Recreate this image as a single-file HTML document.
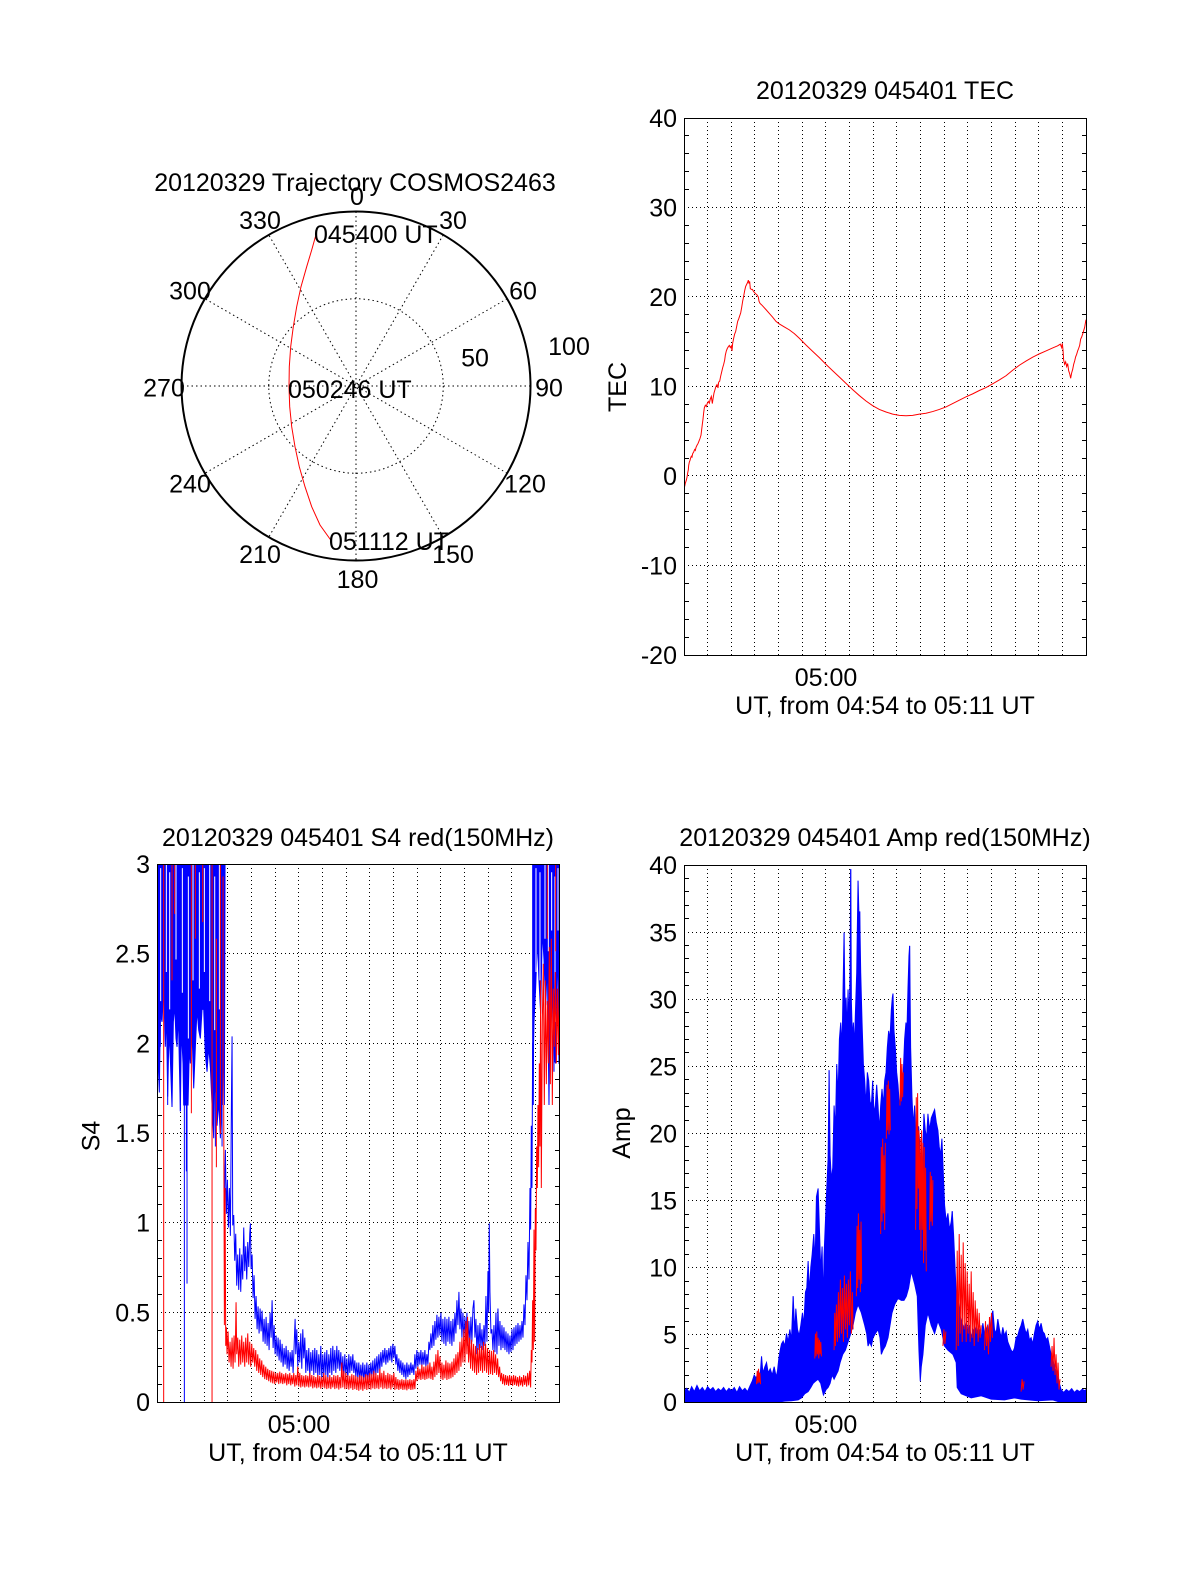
<!DOCTYPE html>
<html>
<head>
<meta charset="utf-8">
<style>
html,body{margin:0;padding:0;background:#fff;}
svg{display:block;}
text{font-family:"Liberation Sans",Arial,Helvetica,sans-serif;font-size:25px;fill:#000;}
</style>
</head>
<body>
<svg xmlns="http://www.w3.org/2000/svg" width="1200" height="1575" viewBox="0 0 1200 1575">
<rect x="0" y="0" width="1200" height="1575" fill="#fff"/>
<defs>
  <clipPath id="cTEC"><rect x="684" y="118" width="402" height="537"/></clipPath>
  <clipPath id="cS4"><rect x="157" y="864" width="402" height="538"/></clipPath>
  <clipPath id="cAmp"><rect x="684" y="865" width="402" height="537"/></clipPath>
</defs>

<!-- ================= POLAR ================= -->
<g>
  <text x="355" y="191" text-anchor="middle">20120329 Trajectory COSMOS2463</text>
  <g stroke="#000" stroke-width="1" stroke-dasharray="1.5 3" fill="none">
    <path d="M356 211.5L356 560.5M443.25 234.9L268.75 537.1M507.1 298.75L204.9 473.25M530.5 386L181.5 386M507.1 473.25L204.9 298.75M443.25 537.1L268.75 234.9"/>
    <circle cx="356" cy="386" r="87.25"/>
  </g>
  <circle cx="356" cy="386" r="174.5" fill="none" stroke="#000" stroke-width="2"/>
  <polyline fill="none" stroke="#ff0000" stroke-width="1" points="315.7,235.7 311.7,250 306.7,266.7 301,286.7 296.7,306.7 293.3,326.7 290.7,346.7 289.3,366.7 289,386.7 289.7,406.7 291.7,426.7 295,446.7 299.3,466.7 305,486.7 311.7,506.7 320,525 330.7,540"/>
  <text x="357" y="205" text-anchor="middle">0</text>
  <text x="453" y="229" text-anchor="middle">30</text>
  <text x="523" y="299.5" text-anchor="middle">60</text>
  <text x="549" y="396.5" text-anchor="middle">90</text>
  <text x="525" y="492.5" text-anchor="middle">120</text>
  <text x="453" y="563" text-anchor="middle">150</text>
  <text x="357.5" y="588" text-anchor="middle">180</text>
  <text x="260" y="563" text-anchor="middle">210</text>
  <text x="190" y="492.5" text-anchor="middle">240</text>
  <text x="164" y="396.5" text-anchor="middle">270</text>
  <text x="190" y="299.5" text-anchor="middle">300</text>
  <text x="260" y="229" text-anchor="middle">330</text>
  <text x="475" y="366.5" text-anchor="middle">50</text>
  <text x="569" y="355" text-anchor="middle">100</text>
  <text x="314" y="243">045400 UT</text>
  <text x="288" y="398">050246 UT</text>
  <text x="329" y="550">051112 UT</text>
</g>

<!-- ================= TEC ================= -->
<g>
  <text x="885" y="99" text-anchor="middle">20120329 045401 TEC</text>
  <g stroke="#000" stroke-width="1" stroke-dasharray="1 3" fill="none" shape-rendering="crispEdges">
    <path d="M707.5 118V655M731.5 118V655M754.5 118V655M778.5 118V655M802.5 118V655M825.5 118V655M849.5 118V655M873.5 118V655M896.5 118V655M920.5 118V655M944.5 118V655M967.5 118V655M991.5 118V655M1015.5 118V655M1038.5 118V655M1062.5 118V655"/>
    <path d="M684 207.5H1086M684 296.5H1086M684 386.5H1086M684 475.5H1086M684 565.5H1086"/>
  </g>
  <path stroke="#000" stroke-width="1" fill="none" shape-rendering="crispEdges" d="M684 135.5h5M1087 135.5h-5M684 153.5h5M1087 153.5h-5M684 171.5h5M1087 171.5h-5M684 189.5h5M1087 189.5h-5M684 225.5h5M1087 225.5h-5M684 243.5h5M1087 243.5h-5M684 261.5h5M1087 261.5h-5M684 279.5h5M1087 279.5h-5M684 314.5h5M1087 314.5h-5M684 332.5h5M1087 332.5h-5M684 350.5h5M1087 350.5h-5M684 368.5h5M1087 368.5h-5M684 404.5h5M1087 404.5h-5M684 422.5h5M1087 422.5h-5M684 440.5h5M1087 440.5h-5M684 458.5h5M1087 458.5h-5M684 493.5h5M1087 493.5h-5M684 511.5h5M1087 511.5h-5M684 529.5h5M1087 529.5h-5M684 547.5h5M1087 547.5h-5M684 583.5h5M1087 583.5h-5M684 601.5h5M1087 601.5h-5M684 619.5h5M1087 619.5h-5M684 637.5h5M1087 637.5h-5"/>
  <g clip-path="url(#cTEC)">
    <g transform="translate(599.333,69.565) scale(0.33333,0.42118)">
      <polyline fill="none" stroke="#ff0000" stroke-width="1" vector-effect="non-scaling-stroke" points="256,990 258,982 261,975 263,968 265,958 267,950 268,940 270,932 272,928 274,922 276,918 278,920 280,912 283,908 286,902 288,904 290,897 293,892 296,888 299,882 302,876 305,868 307,855 309,842 311,830 313,815 315,803 318,797 321,800 324,792 327,788 330,792 333,782 336,776 339,793 341,782 344,768 347,760 350,752 353,748 356,756 358,742 361,740 364,728 367,718 370,708 373,700 376,690 378,678 381,668 384,662 387,658 390,655 393,660 396,656 398,668 400,650 403,638 406,628 409,622 412,610 415,598 418,592 421,585 424,578 427,565 430,550 433,538 436,525 439,515 442,510 445,505 447,500 449,508 451,503 453,520 456,522 459,522 462,526 466,530 470,533 474,536 477,540 479,550 482,555 486,558 492,563 500,570 510,579 520,588 530,598 540,604 555,611 570,618 585,627 600,638 620,654 640,669 660,684 680,700 700,715 720,730 740,745 760,760 780,774 800,787 820,798 840,807 860,813 880,818 900,821 920,822 940,821 960,818 980,816 1000,812 1020,807 1040,801 1060,793 1080,785 1100,777 1120,770 1140,762 1160,755 1180,746 1200,737 1220,727 1240,714 1260,702 1280,692 1300,683 1320,675 1340,668 1360,661 1375,656 1383,652 1387,660 1389,650 1391,665 1393,690 1396,700 1399,694 1402,705 1405,698 1408,715 1411,722 1414,733 1417,720 1420,712 1423,700 1426,692 1429,682 1432,676 1435,668 1438,662 1441,655 1444,640 1447,635 1450,628 1453,620 1456,612 1459,598 1460,594"/>
    </g>
  </g>
  <rect x="684.5" y="118.5" width="402" height="537" fill="none" stroke="#000" stroke-width="1" shape-rendering="crispEdges"/>
  <g text-anchor="end">
    <text x="677" y="127">40</text>
    <text x="677" y="216.5">30</text>
    <text x="677" y="306">20</text>
    <text x="677" y="395.5">10</text>
    <text x="677" y="485">0</text>
    <text x="677" y="574.5">-10</text>
    <text x="677" y="664">-20</text>
  </g>
  <text x="826" y="686" text-anchor="middle">05:00</text>
  <text x="885" y="714" text-anchor="middle">UT, from 04:54 to 05:11 UT</text>
  <text transform="translate(626,387) rotate(-90)" text-anchor="middle">TEC</text>
</g>

<!-- ================= S4 ================= -->
<g>
  <text x="358" y="846" text-anchor="middle">20120329 045401 S4 red(150MHz)</text>
  <g stroke="#000" stroke-width="1" stroke-dasharray="1 3" fill="none" shape-rendering="crispEdges">
    <path d="M180.5 864V1402M204.5 864V1402M227.5 864V1402M251.5 864V1402M275.5 864V1402M298.5 864V1402M322.5 864V1402M346.5 864V1402M369.5 864V1402M393.5 864V1402M417.5 864V1402M440.5 864V1402M464.5 864V1402M488.5 864V1402M511.5 864V1402M535.5 864V1402"/>
    <path d="M157 953.5H559M157 1043.5H559M157 1133.5H559M157 1222.5H559M157 1312.5H559"/>
  </g>
  <path stroke="#000" stroke-width="1" fill="none" shape-rendering="crispEdges" d="M157 881.5h5M560 881.5h-5M157 899.5h5M560 899.5h-5M157 917.5h5M560 917.5h-5M157 935.5h5M560 935.5h-5M157 971.5h5M560 971.5h-5M157 989.5h5M560 989.5h-5M157 1007.5h5M560 1007.5h-5M157 1025.5h5M560 1025.5h-5M157 1061.5h5M560 1061.5h-5M157 1079.5h5M560 1079.5h-5M157 1097.5h5M560 1097.5h-5M157 1115.5h5M560 1115.5h-5M157 1150.5h5M560 1150.5h-5M157 1168.5h5M560 1168.5h-5M157 1186.5h5M560 1186.5h-5M157 1204.5h5M560 1204.5h-5M157 1240.5h5M560 1240.5h-5M157 1258.5h5M560 1258.5h-5M157 1276.5h5M560 1276.5h-5M157 1294.5h5M560 1294.5h-5M157 1330.5h5M560 1330.5h-5M157 1348.5h5M560 1348.5h-5M157 1366.5h5M560 1366.5h-5M157 1384.5h5M560 1384.5h-5"/>
  <g clip-path="url(#cS4)">
    <g transform="translate(80.27,814.15) scale(0.33361,0.41544)">
      <!-- blue left chaos -->
      <polygon fill="#0000ff" stroke="#0000ff" stroke-width="1" vector-effect="non-scaling-stroke" points="229,100 229,560 232,570 237,670 240,480 245,500 250,420 255,560 258,470 262,680 266,520 270,590 275,705 279,500 283,460 287,540 290,560 294,480 297,600 300,715 303,520 305,550 308,600 310,700 316,700 318,700 323,700 327,560 330,600 335,520 340,660 345,560 350,470 355,520 360,540 365,470 370,470 375,580 380,620 385,560 390,610 395,700 400,780 403,640 405,670 408,560 410,750 415,690 420,780 425,680 428,620 430,560 432,700 434,100"/>
      <!-- blue right chaos -->
      <polygon fill="#0000ff" stroke="#0000ff" stroke-width="1" vector-effect="non-scaling-stroke" points="1356,100 1440,100 1440,600 1435,600 1430,300 1425,600 1420,590 1415,450 1410,300 1405,700 1400,360 1395,460 1390,350 1385,280 1380,480 1375,400 1370,300 1365,420 1360,500 1356,640"/>
      <!-- white streaks in chaos -->
      <path stroke="#ffffff" stroke-width="1" vector-effect="non-scaling-stroke" fill="none" d="M241 130V450M258 120V380M268 140V470M287 120V350M306 130V430M324 150V540M338 120V400M357 140V420M372 130V380M388 120V450M403 150V520M417 120V470M1366 130V380M1378 140V400M1393 120V300M1403 120V330M1413 140V280M1423 150V500M1432 130V280"/>
      <!-- blue spikes -->
      <path stroke="#0000ff" stroke-width="1" vector-effect="non-scaling-stroke" fill="none" d="M312 100V1420M320 700V1130M262 500V700M300 550V715M240 480V560M318 700V860M405 600V800M425 650V800M1405 500V700M1420 500V620"/>
      <!-- blue middle -->
      <polyline fill="none" stroke="#0000ff" stroke-width="1" vector-effect="non-scaling-stroke" points="432,930 435,808 438,962 441,880 444,995 447,900 450,1015 453,700 455,535 457,990 460,965 463,1075 466,1010 469,1135 472,1060 475,1145 478,1045 481,1150 484,1060 487,1120 490,995 493,1100 496,1040 499,1120 502,1030 505,1090 508,1010 510,985 512,1095 515,1060 518,1165 521,1110 524,1215 527,1160 530,1240 533,1185 536,1250 539,1190 542,1245 545,1195 548,1270 551,1215 554,1275 557,1210 560,1280 563,1225 566,1290 569,1200 572,1260 575,1170 578,1285 581,1230 584,1300 587,1255 590,1305 593,1260 596,1315 599,1265 602,1320 605,1275 608,1330 611,1285 614,1325 617,1280 620,1335 623,1290 626,1340 629,1295 632,1330 635,1290 638,1345 641,1280 644,1215 646,1300 649,1240 652,1330 655,1270 658,1320 661,1250 664,1335 667,1240 670,1310 673,1260 676,1345 679,1290 682,1340 685,1285 688,1355 691,1295 694,1340 697,1290 700,1350 703,1285 706,1345 709,1290 712,1355 715,1300 718,1350 721,1280 724,1360 727,1300 730,1355 733,1295 736,1350 739,1290 742,1360 745,1300 748,1345 751,1285 754,1350 757,1280 760,1340 763,1290 766,1345 769,1280 772,1335 775,1290 778,1340 781,1295 784,1355 787,1305 790,1360 793,1300 796,1350 799,1310 802,1360 805,1300 808,1345 811,1305 814,1340 817,1300 820,1345 823,1315 826,1355 829,1320 832,1360 835,1320 838,1365 841,1325 844,1360 847,1320 850,1370 853,1325 856,1365 859,1320 862,1370 865,1325 868,1360 871,1320 874,1355 877,1315 880,1360 883,1310 886,1350 889,1305 892,1345 895,1300 898,1340 901,1295 904,1330 907,1290 910,1320 913,1285 916,1325 919,1290 922,1320 925,1285 928,1315 931,1280 934,1320 937,1275 940,1310 943,1280 946,1325 949,1300 952,1340 955,1310 958,1345 961,1315 964,1350 967,1320 970,1355 973,1325 976,1360 979,1320 982,1355 985,1325 988,1350 991,1320 994,1345 997,1325 1000,1350 1003,1300 1006,1335 1009,1290 1012,1330 1015,1295 1018,1325 1021,1290 1024,1330 1027,1295 1030,1325 1033,1290 1036,1330 1039,1300 1042,1325 1045,1270 1048,1290 1051,1250 1054,1285 1057,1230 1060,1280 1063,1220 1066,1265 1069,1205 1072,1260 1075,1210 1078,1255 1081,1200 1084,1270 1087,1215 1090,1275 1093,1210 1096,1280 1099,1215 1102,1270 1105,1210 1108,1275 1111,1220 1114,1280 1117,1215 1120,1270 1123,1200 1126,1250 1129,1170 1132,1230 1135,1150 1138,1240 1141,1190 1144,1260 1147,1200 1150,1270 1153,1210 1156,1265 1159,1200 1162,1280 1165,1220 1168,1275 1171,1210 1174,1270 1177,1190 1180,1170 1183,1260 1186,1215 1189,1300 1192,1230 1195,1290 1198,1225 1201,1285 1204,1240 1207,1290 1210,1230 1213,1280 1216,1160 1219,1270 1222,1100 1224,1200 1226,985 1228,1150 1231,1250 1234,1240 1237,1290 1240,1230 1243,1295 1246,1200 1249,1300 1252,1190 1255,1280 1258,1220 1261,1290 1264,1230 1267,1285 1270,1235 1273,1290 1276,1245 1279,1295 1282,1250 1285,1300 1288,1255 1291,1295 1294,1240 1297,1290 1300,1235 1303,1280 1306,1230 1309,1275 1312,1225 1315,1270 1318,1230 1321,1265 1324,1220 1327,1260 1330,1180 1333,1230 1336,1110 1339,1170 1342,1030 1345,1120 1348,900 1350,1000 1352,750 1354,900 1356,550 1358,700 1360,300"/>
      <!-- red middle/right -->
      <polyline fill="none" stroke="#ff0000" stroke-width="1" vector-effect="non-scaling-stroke" points="430,700 432,1230 434,900 436,1280 438,1235 440,1300 443,1245 446,1320 449,1270 452,1330 455,1260 458,1335 461,1255 464,1320 467,1175 469,1300 472,1260 475,1330 478,1265 481,1325 484,1255 487,1320 490,1270 493,1330 496,1260 499,1320 502,1250 505,1325 508,1270 511,1330 514,1275 517,1320 520,1285 523,1330 526,1290 529,1340 532,1300 535,1345 538,1310 541,1350 544,1315 547,1355 550,1325 553,1360 556,1330 559,1362 562,1335 565,1365 568,1338 571,1368 574,1340 577,1370 580,1342 583,1372 586,1345 589,1368 592,1345 595,1372 598,1342 601,1370 604,1345 607,1372 610,1348 613,1370 616,1345 619,1375 622,1348 625,1372 628,1345 631,1375 634,1350 637,1372 640,1345 643,1378 646,1350 649,1375 652,1330 655,1378 658,1345 661,1380 664,1350 667,1378 670,1352 673,1380 676,1350 679,1378 682,1352 685,1380 688,1345 691,1378 694,1350 697,1382 700,1352 703,1380 706,1355 709,1382 712,1350 715,1380 718,1352 721,1383 724,1355 727,1380 730,1345 733,1382 736,1350 739,1384 742,1355 745,1382 748,1350 751,1384 754,1355 757,1380 760,1350 763,1384 766,1352 769,1382 772,1350 775,1385 778,1355 781,1382 784,1320 787,1380 790,1340 793,1384 796,1345 799,1383 802,1350 805,1385 808,1352 811,1382 814,1348 817,1386 820,1350 823,1384 826,1352 829,1386 832,1355 835,1388 838,1350 841,1385 844,1352 847,1388 850,1355 853,1384 856,1348 859,1386 862,1350 865,1384 868,1345 871,1385 874,1348 877,1382 880,1340 883,1384 886,1345 889,1382 892,1350 895,1384 898,1335 901,1380 904,1345 907,1384 910,1340 913,1382 916,1350 919,1384 922,1345 925,1382 928,1348 931,1385 934,1350 937,1380 940,1345 943,1386 946,1355 949,1384 952,1360 955,1386 958,1362 961,1384 964,1360 967,1386 970,1362 973,1385 976,1360 979,1387 982,1362 985,1384 988,1360 991,1386 994,1362 997,1385 1000,1360 1003,1384 1006,1340 1009,1365 1012,1330 1015,1360 1018,1335 1021,1362 1024,1325 1027,1360 1030,1330 1033,1362 1036,1328 1039,1360 1042,1325 1045,1358 1048,1320 1051,1360 1054,1330 1057,1362 1060,1318 1063,1355 1066,1300 1069,1350 1072,1290 1075,1345 1078,1305 1081,1360 1084,1320 1087,1362 1090,1325 1093,1358 1096,1315 1099,1362 1102,1320 1105,1360 1108,1322 1111,1358 1114,1318 1117,1355 1120,1310 1123,1350 1126,1300 1129,1345 1132,1295 1135,1340 1138,1270 1141,1330 1144,1260 1147,1320 1150,1240 1153,1320 1156,1220 1159,1300 1161,1210 1164,1320 1167,1260 1170,1335 1173,1265 1176,1340 1179,1275 1182,1345 1185,1280 1188,1350 1191,1285 1194,1345 1197,1275 1200,1340 1203,1280 1206,1345 1209,1270 1212,1340 1215,1275 1218,1345 1221,1285 1224,1350 1227,1290 1230,1348 1233,1292 1236,1350 1239,1290 1242,1345 1245,1300 1248,1350 1251,1310 1254,1355 1257,1330 1260,1365 1263,1345 1266,1372 1269,1348 1272,1375 1275,1350 1278,1374 1281,1352 1284,1376 1287,1350 1290,1374 1293,1352 1296,1376 1299,1350 1302,1374 1305,1352 1308,1376 1311,1355 1314,1378 1317,1352 1320,1375 1323,1355 1326,1378 1329,1350 1332,1374 1335,1352 1338,1378 1341,1345 1344,1375 1347,1340 1350,1380 1352,1290 1354,1320 1356,1170 1358,1290 1360,1000 1362,1270 1364,950 1366,1050 1368,800 1370,900 1372,700 1374,850 1376,600 1378,800 1380,400 1382,900 1385,500 1388,360 1391,700 1394,400 1397,650 1400,450 1403,600 1406,320 1409,650 1412,300 1415,700 1418,420 1421,560 1424,380 1427,600 1430,420 1433,580 1436,400"/>
      <!-- red lines left -->
      <path stroke="#ff0000" stroke-width="1" vector-effect="non-scaling-stroke" fill="none" d="M250 100V1420M275 100V400M283 100V240M333 100V720M345 100V300M367 100V260M395 100V1420M408 300V850M420 100V770M428 150V700M1400 100V300M1425 100V330"/>
    </g>
  </g>
  <rect x="157.5" y="864.5" width="402" height="538" fill="none" stroke="#000" stroke-width="1" shape-rendering="crispEdges"/>
  <g text-anchor="end">
    <text x="150" y="873">3</text>
    <text x="150" y="962.5">2.5</text>
    <text x="150" y="1052.5">2</text>
    <text x="150" y="1142">1.5</text>
    <text x="150" y="1231.5">1</text>
    <text x="150" y="1321.5">0.5</text>
    <text x="150" y="1411">0</text>
  </g>
  <text x="299" y="1433" text-anchor="middle">05:00</text>
  <text x="358" y="1461" text-anchor="middle">UT, from 04:54 to 05:11 UT</text>
  <text transform="translate(99.5,1136) rotate(-90)" text-anchor="middle">S4</text>
</g>

<!-- ================= AMP ================= -->
<g>
  <text x="885" y="846" text-anchor="middle">20120329 045401 Amp red(150MHz)</text>
  <g stroke="#000" stroke-width="1" stroke-dasharray="1 3" fill="none" shape-rendering="crispEdges">
    <path d="M707.5 865V1402M731.5 865V1402M754.5 865V1402M778.5 865V1402M802.5 865V1402M825.5 865V1402M849.5 865V1402M873.5 865V1402M896.5 865V1402M920.5 865V1402M944.5 865V1402M967.5 865V1402M991.5 865V1402M1015.5 865V1402M1038.5 865V1402M1062.5 865V1402"/>
    <path d="M684 932.5H1086M684 999.5H1086M684 1066.5H1086M684 1133.5H1086M684 1200.5H1086M684 1267.5H1086M684 1334.5H1086"/>
  </g>
  <path stroke="#000" stroke-width="1" fill="none" shape-rendering="crispEdges" d="M684 878.5h5M1087 878.5h-5M684 891.5h5M1087 891.5h-5M684 905.5h5M1087 905.5h-5M684 918.5h5M1087 918.5h-5M684 945.5h5M1087 945.5h-5M684 958.5h5M1087 958.5h-5M684 972.5h5M1087 972.5h-5M684 985.5h5M1087 985.5h-5M684 1012.5h5M1087 1012.5h-5M684 1026.5h5M1087 1026.5h-5M684 1039.5h5M1087 1039.5h-5M684 1052.5h5M1087 1052.5h-5M684 1079.5h5M1087 1079.5h-5M684 1093.5h5M1087 1093.5h-5M684 1106.5h5M1087 1106.5h-5M684 1120.5h5M1087 1120.5h-5M684 1146.5h5M1087 1146.5h-5M684 1160.5h5M1087 1160.5h-5M684 1173.5h5M1087 1173.5h-5M684 1187.5h5M1087 1187.5h-5M684 1214.5h5M1087 1214.5h-5M684 1227.5h5M1087 1227.5h-5M684 1240.5h5M1087 1240.5h-5M684 1254.5h5M1087 1254.5h-5M684 1281.5h5M1087 1281.5h-5M684 1294.5h5M1087 1294.5h-5M684 1308.5h5M1087 1308.5h-5M684 1321.5h5M1087 1321.5h-5M684 1348.5h5M1087 1348.5h-5M684 1361.5h5M1087 1361.5h-5M684 1375.5h5M1087 1375.5h-5M684 1388.5h5M1087 1388.5h-5"/>
  <g clip-path="url(#cAmp)">
    <g transform="translate(605.13,815.24) scale(0.33278,0.41467)">
      <polygon fill="#0000ff" stroke="#0000ff" stroke-width="1" vector-effect="non-scaling-stroke" points="237,1390 245,1382 253,1392 260,1378 268,1390 276,1375 284,1388 292,1380 300,1390 308,1378 316,1386 324,1380 332,1390 340,1383 348,1388 356,1380 364,1390 372,1382 380,1388 388,1380 396,1392 404,1378 412,1388 420,1382 428,1390 436,1375 442,1365 448,1350 454,1358 460,1340 466,1350 470,1305 474,1345 480,1330 485,1320 490,1345 496,1335 502,1350 508,1330 514,1355 518,1340 522,1310 526,1290 530,1275 535,1268 540,1280 545,1250 550,1270 555,1240 560,1265 565,1160 570,1250 573,1190 578,1240 583,1255 588,1230 593,1200 597,1230 602,1150 606,1140 610,1075 614,1150 618,1090 622,1060 627,1010 631,1080 635,920 640,900 644,1000 648,1100 652,1040 655,1180 658,1060 662,980 666,900 670,830 673,615 676,820 680,880 684,850 688,700 692,760 696,600 700,680 704,540 708,500 712,560 715,420 718,283 721,480 724,440 727,520 730,420 733,500 736,380 738,130 740,450 743,540 746,500 749,560 752,480 756,380 760,158 763,250 765,232 768,380 772,500 776,600 780,640 784,700 788,620 792,640 796,690 800,700 804,640 808,720 812,700 816,650 820,700 824,760 828,700 832,660 836,700 840,640 844,620 848,560 852,520 856,540 860,470 863,440 865,430 868,520 872,560 876,620 880,650 884,700 888,680 892,640 896,620 900,540 904,500 907,520 910,420 913,340 915,315 918,560 922,680 926,750 930,700 934,780 938,800 942,750 946,800 950,860 954,830 958,720 962,760 966,780 970,720 975,760 980,730 985,720 990,710 995,740 1000,760 1004,800 1008,820 1012,780 1016,860 1020,940 1025,980 1030,960 1035,1000 1040,980 1043,955 1047,1010 1052,1100 1056,1180 1060,1160 1065,1200 1070,1220 1075,1230 1080,1240 1085,1220 1090,1250 1095,1230 1100,1260 1105,1240 1110,1250 1115,1230 1120,1255 1125,1240 1130,1260 1135,1225 1140,1250 1145,1240 1150,1230 1155,1260 1160,1210 1165,1195 1170,1240 1175,1250 1180,1215 1185,1240 1190,1260 1195,1235 1200,1255 1205,1245 1210,1270 1215,1280 1220,1290 1225,1295 1230,1285 1235,1260 1240,1255 1245,1240 1250,1230 1255,1215 1260,1235 1265,1250 1270,1240 1275,1265 1280,1260 1285,1275 1290,1250 1295,1230 1300,1220 1305,1240 1310,1225 1315,1245 1320,1250 1325,1265 1330,1260 1335,1280 1340,1300 1345,1310 1350,1330 1355,1340 1360,1355 1365,1370 1370,1385 1378,1392 1386,1385 1394,1390 1402,1383 1410,1392 1418,1386 1426,1390 1434,1384 1440,1388 1446,1385 1446,1416 1370,1416 1345,1410 1300,1412 1250,1408 1230,1405 1200,1410 1160,1408 1130,1400 1100,1405 1070,1395 1058,1380 1055,1320 1045,1300 1030,1290 1020,1280 1010,1240 1000,1220 990,1250 980,1230 970,1200 962,1230 955,1300 950,1330 947,1365 943,1290 938,1160 930,1130 920,1100 912,1140 905,1160 898,1170 890,1170 880,1165 870,1180 862,1200 858,1220 850,1260 842,1280 835,1290 830,1300 826,1260 820,1240 812,1250 805,1260 800,1280 795,1270 790,1280 786,1250 780,1230 770,1200 760,1180 752,1200 745,1230 738,1250 730,1270 722,1290 714,1300 706,1320 700,1340 694,1350 688,1360 682,1350 676,1370 670,1380 664,1385 660,1392 656,1398 652,1385 648,1370 640,1360 632,1365 625,1370 618,1380 610,1390 600,1395 590,1405 580,1410 560,1412 540,1413 520,1415 440,1416 237,1416"/>
      <!-- blue extra spikes -->
      <path stroke="#0000ff" stroke-width="1" vector-effect="non-scaling-stroke" fill="none" d="M718 283V600M738 130V500M760 158V500M765 232V500M915 315V600M865 430V600M673 615V900M565 1160V1300M470 1305V1380M1165 1195V1300M1043 955V1100M990 710V800"/>
      <!-- red patches -->
      <g fill="none" stroke="#ff0000" stroke-width="1" vector-effect="non-scaling-stroke">
        <polyline vector-effect="non-scaling-stroke" points="455,1372 457,1340 459,1370 461,1335 463,1368 465,1345 467,1372"/>
        <polyline vector-effect="non-scaling-stroke" points="630,1310 632,1250 634,1305 636,1245 638,1300 640,1260 642,1310 644,1265 646,1300 648,1270 650,1305"/>
        <polyline vector-effect="non-scaling-stroke" points="688,1290 690,1200 692,1280 695,1180 698,1270 701,1150 704,1260 707,1120 710,1250 713,1140 716,1270 719,1110 722,1240 725,1130 728,1260 731,1120 734,1230 737,1100 740,1250 743,1150 745,1240"/>
        <polyline vector-effect="non-scaling-stroke" points="755,1160 757,990 759,1140 761,960 763,1120 765,1000 767,1150 769,980 771,1130"/>
        <polyline vector-effect="non-scaling-stroke" points="828,1010 830,800 832,980 834,780 836,960 838,820 840,1000 842,790"/>
        <polyline vector-effect="non-scaling-stroke" points="845,780 847,650 849,760 851,640 853,770 855,660 857,760"/>
        <polyline vector-effect="non-scaling-stroke" points="886,700 888,585 890,690 892,600 894,680 896,620"/>
        <polyline vector-effect="non-scaling-stroke" points="933,1000 935,680 937,950 939,670 941,900 943,760 945,1000 947,780 949,1050 951,760 953,1000 955,790 957,1080 959,800 961,1050 963,850 965,1100"/>
        <polyline vector-effect="non-scaling-stroke" points="975,1000 977,860 979,980 981,870 983,990 985,880"/>
        <polyline vector-effect="non-scaling-stroke" points="1015,1280 1018,1240 1021,1275 1024,1245"/>
        <polyline vector-effect="non-scaling-stroke" points="1055,1290 1058,1050 1061,1280 1064,1010 1067,1250 1070,1060 1073,1270 1076,1030 1079,1240 1082,1080 1085,1270 1088,1100 1091,1250 1094,1130 1097,1270 1100,1100 1103,1260 1106,1150 1109,1280 1112,1170 1115,1250 1118,1190 1121,1270 1124,1200 1127,1260 1130,1230"/>
        <polyline vector-effect="non-scaling-stroke" points="1140,1290 1143,1220 1146,1280 1149,1230 1152,1300 1155,1210 1158,1270 1161,1200 1164,1260"/>
        <polyline vector-effect="non-scaling-stroke" points="1250,1390 1253,1360 1256,1385 1259,1365"/>
        <polyline vector-effect="non-scaling-stroke" points="1340,1330 1343,1280 1346,1340 1349,1260 1352,1350 1355,1300 1358,1370 1361,1320 1364,1385 1367,1360"/>
      </g>
    </g>
  </g>
  <rect x="684.5" y="865.5" width="402" height="537" fill="none" stroke="#000" stroke-width="1" shape-rendering="crispEdges"/>
  <g text-anchor="end">
    <text x="677" y="874">40</text>
    <text x="677" y="941.5">35</text>
    <text x="677" y="1008.5">30</text>
    <text x="677" y="1075.5">25</text>
    <text x="677" y="1142.5">20</text>
    <text x="677" y="1209.5">15</text>
    <text x="677" y="1276.5">10</text>
    <text x="677" y="1343.5">5</text>
    <text x="677" y="1411">0</text>
  </g>
  <text x="826" y="1433" text-anchor="middle">05:00</text>
  <text x="885" y="1461" text-anchor="middle">UT, from 04:54 to 05:11 UT</text>
  <text transform="translate(630,1133) rotate(-90)" text-anchor="middle">Amp</text>
</g>
</svg>
</body>
</html>
